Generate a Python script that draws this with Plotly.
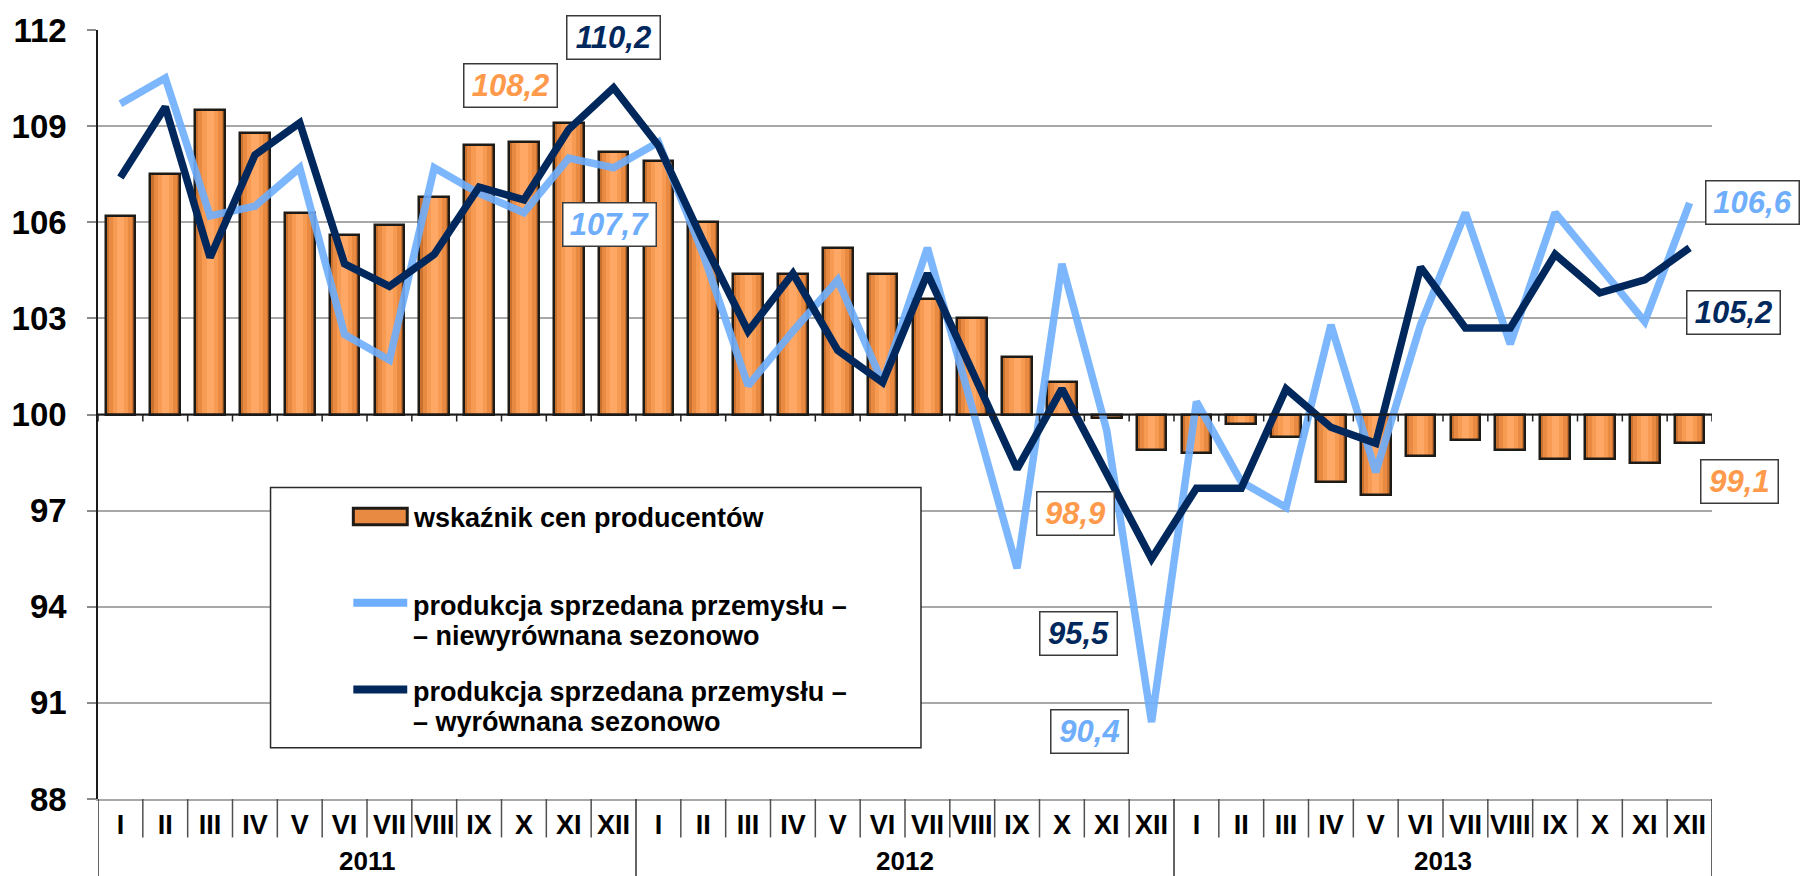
import plotly.graph_objects as go

# ---------------- data ----------------
months = ["I", "II", "III", "IV", "V", "VI", "VII", "VIII", "IX", "X", "XI", "XII"]
years = ["2011", "2012", "2013"]

ppi = [106.2, 107.5, 109.5, 108.8, 106.3, 105.6, 105.9, 106.8, 108.4, 108.5, 109.1, 108.2,
       107.9, 106.0, 104.4, 104.4, 105.2, 104.4, 103.6, 103.0, 101.8, 101.0, 99.9, 98.9,
       98.8, 99.7, 99.3, 97.9, 97.5, 98.7, 99.2, 98.9, 98.6, 98.6, 98.5, 99.1]

prod_nsa = [109.7, 110.5, 106.2, 106.5, 107.7, 102.5, 101.7, 107.7, 106.9, 106.3, 108.0, 107.7,
            108.5, 105.0, 100.9, 102.6, 104.2, 101.0, 105.2, 100.3, 95.2, 104.7, 99.5, 90.4,
            100.4, 97.9, 97.1, 102.8, 98.2, 102.8, 106.3, 102.2, 106.3, 104.6, 102.9, 106.6]

prod_sa = [107.4, 109.6, 104.9, 108.1, 109.1, 104.7, 104.0, 105.0, 107.1, 106.7, 108.9, 110.2,
           108.4, 105.4, 102.6, 104.4, 102.0, 101.0, 104.4, 101.4, 98.3, 100.8, 98.1, 95.5,
           97.7, 97.7, 100.8, 99.6, 99.1, 104.6, 102.7, 102.7, 105.0, 103.8, 104.2, 105.2]

series_names = ["wskaźnik cen producentów",
                "produkcja sprzedana przemysłu –",
                "– niewyrównana sezonowo",
                "– wyrównana sezonowo"]

y_ticks = [88, 91, 94, 97, 100, 103, 106, 109, 112]
base_level = 100

# ---------------- styles ----------------
FONT = "Liberation Sans, Arial, sans-serif"
ORANGE_TXT = "#FF9A4C"
LIGHT = "rgb(110,174,252)"
LIGHT_A = "rgba(110,174,252,0.9)"
DARK = "rgb(0,40,92)"
GRID = "#A8A8A8"

n = len(ppi)
x = list(range(n))
tick_text = months * len(years)
bar_delta = [v - base_level for v in ppi]

fig = go.Figure()

# bars drawn as stacked-width overlays to imitate the shaded gradient
for w, col in [(0.66, "#C9712F"), (0.52, "#E98A42"), (0.34, "#F79A52"), (0.16, "#FFA866")]:
    fig.add_trace(go.Bar(x=x, y=bar_delta, base=base_level, width=w,
                         marker=dict(color=col, line=dict(width=0)),
                         showlegend=False, hoverinfo="skip"))
fig.add_trace(go.Bar(x=x, y=bar_delta, base=base_level, width=0.66, name=series_names[0],
                     marker=dict(color="rgba(0,0,0,0)", line=dict(color="#1E1A16", width=2.5)),
                     showlegend=False))

fig.add_trace(go.Scatter(x=x, y=prod_nsa, mode="lines", name="niewyrównana",
                         line=dict(color=LIGHT_A, width=7.5), showlegend=False))
fig.add_trace(go.Scatter(x=x, y=prod_sa, mode="lines", name="wyrównana",
                         line=dict(color=DARK, width=7.5), showlegend=False))

# ---------------- value labels ----------------
def fmt(v):
    return f"{v:.1f}".replace(".", ",")

i11, i23, i35 = 11, 23, 35
labels = [
    (i11, prod_sa[i11], DARK, 0, 50),
    (i11, ppi[i11], ORANGE_TXT, -103, 66),
    (i11, prod_nsa[i11], LIGHT, -4, -57),
    (i35, prod_nsa[i35], LIGHT, 63, 1),
    (i35, prod_sa[i35], DARK, 44, -65),
    (i35, ppi[i35], ORANGE_TXT, 50, -38),
    (i23, ppi[i23], ORANGE_TXT, -76, -64),
    (i23, prod_sa[i23], DARK, -73, -75),
    (i23, prod_nsa[i23], LIGHT, -62, -9),
]
annotations = []
for xi, v, col, dx, dy in labels:
    t = fmt(v)
    annotations.append(dict(
        x=xi, y=v, xref="x", yref="y", text=t, showarrow=False,
        xshift=dx, yshift=dy, xanchor="center", yanchor="middle",
        font=dict(family=FONT, size=31, color=col, weight="bold", style="italic"),
        bgcolor="white", bordercolor="#3A3A3A", borderwidth=1.5, borderpad=4,
        width=16 * len(t) + 4, height=34,
    ))

# year labels (centered under each group of 12 months)
for k, yr in enumerate(years):
    annotations.append(dict(
        x=k * len(months) + (len(months) - 1) / 2, y=-0.081, xref="x", yref="paper",
        text=yr, showarrow=False, yanchor="middle",
        font=dict(family=FONT, size=26, color="black", weight="bold")))

# ---------------- separators / axis decorations ----------------
shapes = []
for b in range(n + 1):
    xb = b - 0.5
    is_year = (b % len(months) == 0)
    shapes.append(dict(type="line", xref="x", yref="paper", x0=xb, x1=xb,
                       y0=0, y1=(-0.11 if is_year else -0.05),
                       line=dict(color="#505050" if not is_year else "#303030", width=1.5)))
    # tick marks hanging from the 100 line
    shapes.append(dict(type="line", xref="x", yref="y", ysizemode="pixel", yanchor=base_level,
                       x0=xb, x1=xb, y0=0, y1=-7, line=dict(color="#202020", width=1.5)))
shapes.append(dict(type="line", xref="paper", yref="y", x0=0, x1=1, y0=base_level, y1=base_level,
                   line=dict(color="#1A1A1A", width=2)))

# ---------------- manual legend ----------------
L, R, T, B = 0.1069, 0.5099, 0.405, 0.0668
shapes.append(dict(type="rect", xref="paper", yref="paper", x0=L, x1=R, y0=B, y1=T,
                   fillcolor="white", line=dict(color="#2A2A2A", width=1.5), layer="above"))
sx0, sx1 = 0.1582, 0.1916
shapes.append(dict(type="rect", xref="paper", yref="paper", x0=sx0, x1=sx1, y0=0.3565, y1=0.378,
                   fillcolor="#E98A42", line=dict(color="#1E1A16", width=3), layer="above"))
shapes.append(dict(type="line", xref="paper", yref="paper", x0=sx0, x1=sx1, y0=0.2552, y1=0.2552,
                   line=dict(color=LIGHT, width=8), layer="above"))
shapes.append(dict(type="line", xref="paper", yref="paper", x0=sx0, x1=sx1, y0=0.1425, y1=0.1425,
                   line=dict(color=DARK, width=8), layer="above"))
tx = 0.1941
for txt, yy in [(series_names[0], 0.366), (series_names[1], 0.251), (series_names[2], 0.212),
                (series_names[1], 0.1385), (series_names[3], 0.0996)]:
    annotations.append(dict(x=tx, y=yy, xref="paper", yref="paper", text=txt, showarrow=False,
                            xanchor="left", yanchor="middle",
                            font=dict(family=FONT, size=27, color="black", weight="bold")))

fig.update_layout(
    width=1802, height=876,
    margin=dict(l=94, r=90, t=27, b=77),
    paper_bgcolor="white", plot_bgcolor="white",
    barmode="overlay", bargap=0,
    showlegend=False, hovermode=False,
    shapes=shapes, annotations=annotations,
    font=dict(family=FONT, color="black"),
)
fig.update_xaxes(range=[-0.5, n - 0.5], tickvals=x, ticktext=tick_text,
                 showgrid=False, zeroline=False,
                 ticks="outside", ticklen=1, tickcolor="rgba(0,0,0,0)",
                 tickfont=dict(family=FONT, size=27, color="black", weight="bold"),
                 showline=True, linecolor=GRID, linewidth=2)
fig.update_yaxes(range=[y_ticks[0], y_ticks[-1]], tickvals=y_ticks,
                 showgrid=True, gridcolor=GRID, gridwidth=2, zeroline=False,
                 ticks="outside", ticklen=9, tickcolor="#8A8A8A", tickwidth=1.5,
                 ticklabelstandoff=14,
                 tickfont=dict(family=FONT, size=33, color="black", weight="bold"),
                 showline=True, linecolor="#1A1A1A", linewidth=1.5)

fig.write_html("out.html", config={"displayModeBar": False},
               post_script="document.body.style.margin='0';")
